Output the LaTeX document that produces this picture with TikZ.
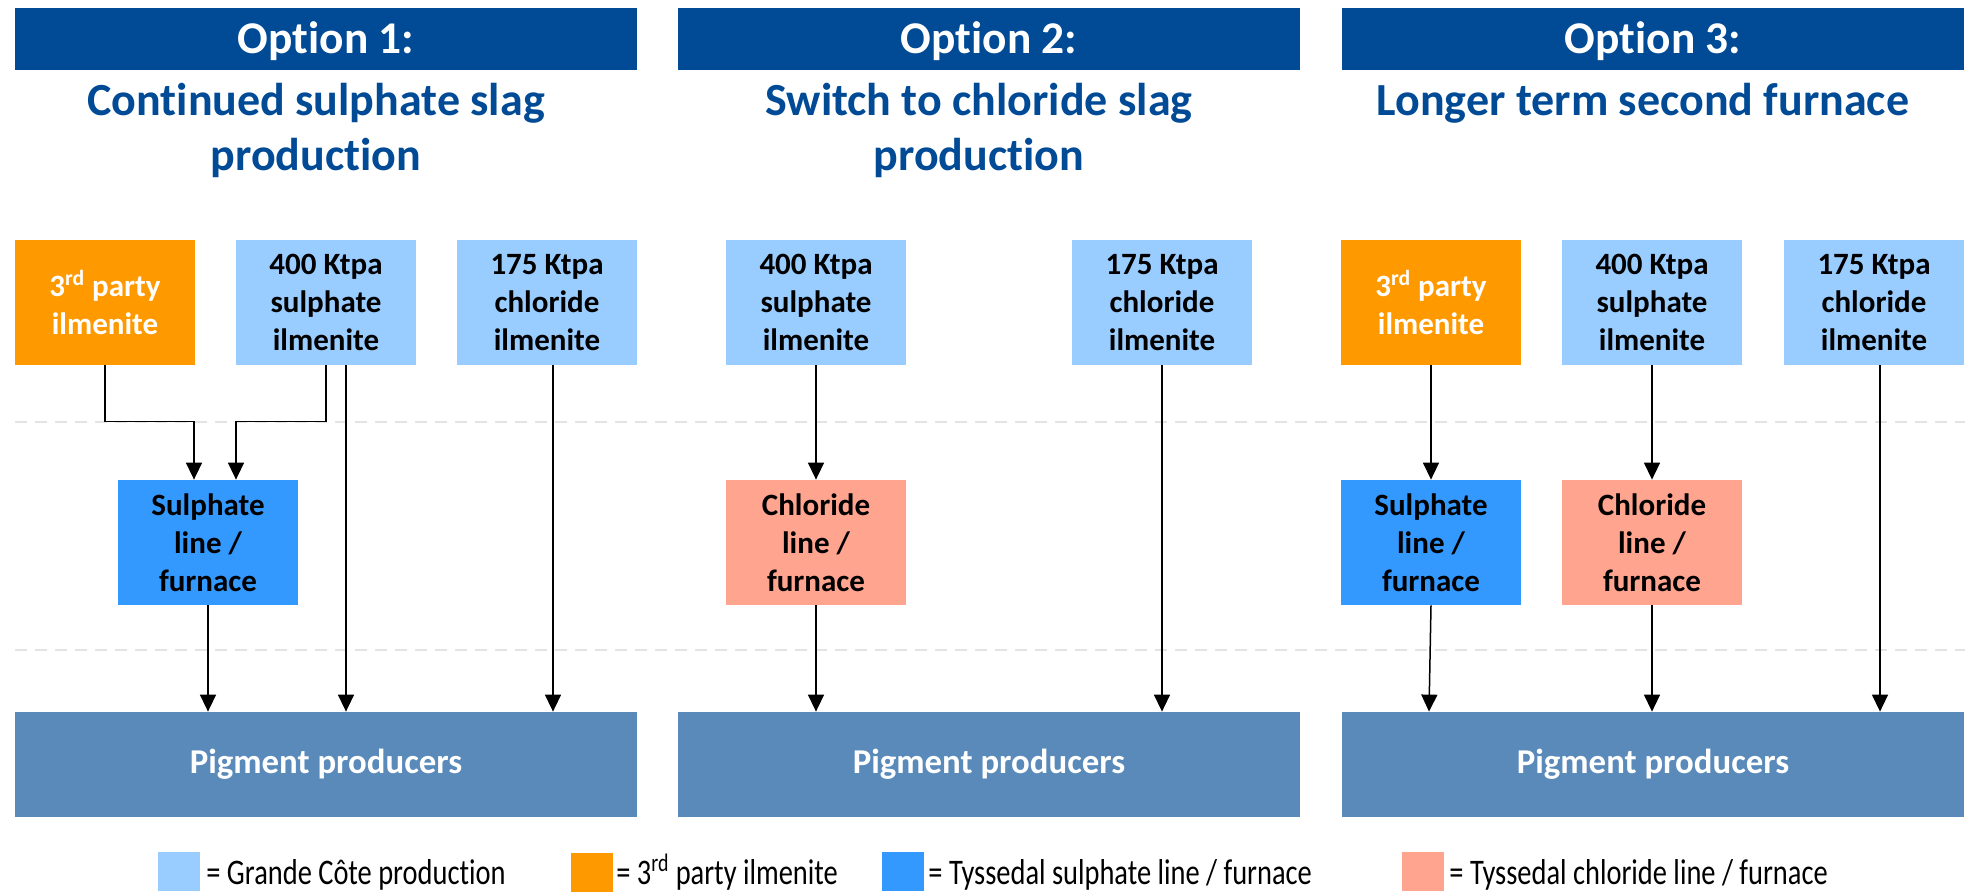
\documentclass[tikz,border=0pt]{standalone}
\usepackage{fontspec}
\setmainfont{Carlito}[Ligatures=NoCommon]
\usetikzlibrary{arrows.meta,calc}
\definecolor{hdrblue}{HTML}{004A96}
\definecolor{gcblue}{HTML}{99CCFF}
\definecolor{tporange}{HTML}{FF9900}
\definecolor{sulblue}{HTML}{3399FF}
\definecolor{chlsalmon}{HTML}{FFA48F}
\definecolor{pigblue}{HTML}{5A8AB9}
\definecolor{dashgray}{HTML}{E3E3E3}
\begin{document}
\begin{tikzpicture}[x=0.5pt,y=-0.5pt,
  hdr/.style={fill=hdrblue, minimum width=311pt, minimum height=31pt, inner sep=0pt,
    text=white, font=\fontsize{22.7}{26}\selectfont\bfseries, text height=14.6pt, text depth=0pt},
  ttl/.style={text=hdrblue, font=\fontsize{23}{27.5}\selectfont\bfseries, align=center, inner sep=0pt},
  box/.style={minimum width=90pt, minimum height=62.5pt, inner sep=0pt, align=center,
    font=\fontsize{15.5}{19}\selectfont\bfseries},
  gc/.style={box, fill=gcblue, text=black},
  tp/.style={box, fill=tporange, text=white},
  sul/.style={box, fill=sulblue, text=black},
  chl/.style={box, fill=chlsalmon, text=black},
  pig/.style={fill=pigblue, minimum width=311pt, minimum height=52.5pt, inner sep=0pt,
    text=white, font=\fontsize{17.4}{20}\selectfont\bfseries},
  guide/.style={draw=dashgray, line width=1.3pt, dash pattern=on 6pt off 4pt},
  arr/.style={-{Triangle[length=8.5pt,width=8pt]}, line width=0.75pt, draw=black},
  legsq/.style={minimum width=21pt, minimum height=19.5pt, inner sep=0pt},
  legtxt/.style={anchor=base west, inner sep=0pt, font=\fontsize{18}{20}\selectfont}
]
\useasboundingbox (0,0) rectangle (1970,891);

% dashed guide lines
\coordinate (g1l) at (15,422);
\coordinate (g1r) at (1965,422);
\coordinate (g2l) at (15,650);
\coordinate (g2r) at (1965,650);
\draw[guide] (g1l) -- (g1r);
\draw[guide] (g2l) -- (g2r);

% headers
\node[hdr] (h1) at (326,39) {Option 1:};
\node[hdr] (h2) at (989,39) {Option 2:};
\node[hdr] (h3) at (1653,39) {Option 3:};

% titles (base anchor = last line)
\node[ttl, anchor=base] (t1) at (316,170) {Continued sulphate slag\\production};
\node[ttl, anchor=base] (t2) at (979,170) {Switch to chloride slag\\production};
\node[ttl, anchor=base] (t3) at (1643,115) {Longer term second furnace};

% option 1
\node[tp] (a1) at (105,302.5) {3\textsuperscript{rd} party\\ilmenite};
\node[gc] (b1) at (326,302.5) {400 Ktpa\\sulphate\\ilmenite};
\node[gc] (c1) at (547,302.5) {175 Ktpa\\chloride\\ilmenite};
\node[sul] (s1) at (208,542.5) {Sulphate\\line /\\furnace};
\node[pig] (p1) at (326,764.5) {Pigment producers};

% option 2
\node[gc] (b2) at (816,302.5) {400 Ktpa\\sulphate\\ilmenite};
\node[gc] (c2) at (1162,302.5) {175 Ktpa\\chloride\\ilmenite};
\node[chl] (k2) at (816,542.5) {Chloride\\line /\\furnace};
\node[pig] (p2) at (989,764.5) {Pigment producers};

% option 3
\node[tp] (a3) at (1431,302.5) {3\textsuperscript{rd} party\\ilmenite};
\node[gc] (b3) at (1652,302.5) {400 Ktpa\\sulphate\\ilmenite};
\node[gc] (c3) at (1874,302.5) {175 Ktpa\\chloride\\ilmenite};
\node[sul] (s3) at (1431,542.5) {Sulphate\\line /\\furnace};
\node[chl] (k3) at (1652,542.5) {Chloride\\line /\\furnace};
\node[pig] (p3) at (1653,764.5) {Pigment producers};

% connectors option 1
\draw[arr] (a1.south) -- ++(0,56) -| ([xshift=-7pt]s1.north);
\draw[arr] (b1.south) -- ++(0,56) -| ([xshift=14pt]s1.north);
\draw[arr] ([xshift=10pt]b1.south) -- ([xshift=10pt]b1.south |- p1.north);
\draw[arr] ([xshift=3pt]c1.south) -- ([xshift=3pt]c1.south |- p1.north);
\draw[arr] (s1.south) -- (s1.south |- p1.north);

% connectors option 2
\draw[arr] (b2.south) -- (k2.north);
\draw[arr] (k2.south) -- (k2.south |- p2.north);
\draw[arr] (c2.south) -- (c2.south |- p2.north);

% connectors option 3
\draw[arr] (a3.south) -- (s3.north);
\draw[arr] (b3.south) -- (k3.north);
\draw[arr] (s3.south) -- ([xshift=-1pt]s3.south |- p3.north);
\draw[arr] (k3.south) -- (k3.south |- p3.north);
\draw[arr] ([xshift=3pt]c3.south) -- ([xshift=3pt]c3.south |- p3.north);

% legend
\node[legsq, fill=gcblue] (l1) at (179,871.5) {};
\node[legtxt] (lt1) at (206,884) {\scalebox{0.79}[1]{= Grande Côte production}};
\node[legsq, fill=tporange] (l2) at (592,872.5) {};
\node[legtxt] (lt2) at (616,884) {\scalebox{0.79}[1]{= 3\textsuperscript{rd} party ilmenite}};
\node[legsq, fill=sulblue] (l3) at (903,871.5) {};
\node[legtxt] (lt3) at (928,884) {\scalebox{0.79}[1]{= Tyssedal sulphate line / furnace}};
\node[legsq, fill=chlsalmon] (l4) at (1423,871.5) {};
\node[legtxt] (lt4) at (1449,884) {\scalebox{0.79}[1]{= Tyssedal chloride line / furnace}};
\end{tikzpicture}
\end{document}
